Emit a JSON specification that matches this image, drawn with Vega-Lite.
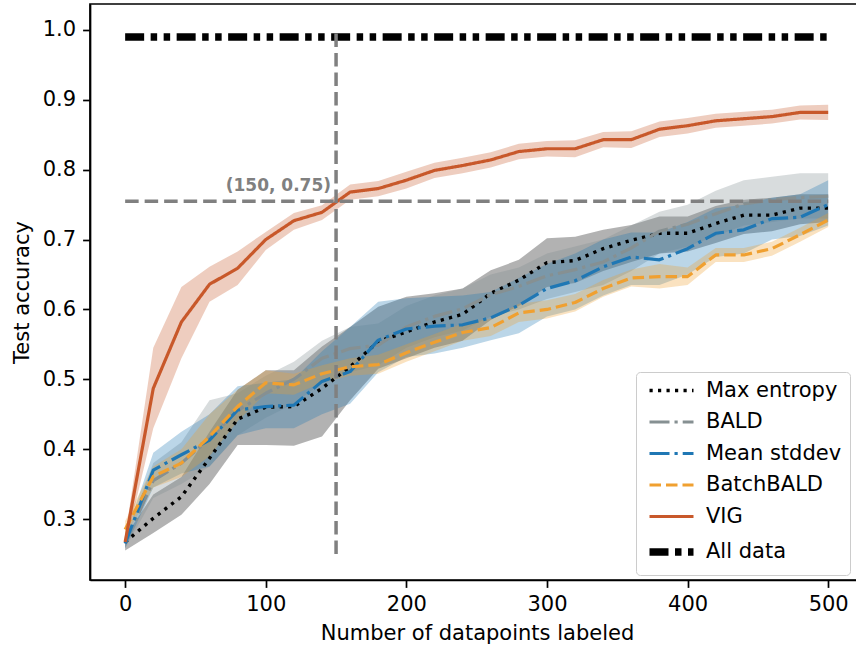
{
  "$schema": "https://vega.github.io/schema/vega-lite/v6.json",
  "width": 768,
  "height": 576,
  "autosize": "none",
  "padding": {"left": 90, "top": 4, "right": -2, "bottom": 69},
  "background": "white",
  "config": {
    "font": "DejaVu Sans",
    "view": {"stroke": "black", "strokeWidth": 1.7},
    "axis": {
      "labelFont": "DejaVu Sans", "labelFontSize": 21, "labelColor": "black",
      "titleFont": "DejaVu Sans", "titleFontSize": 21, "titleFontWeight": "normal", "titleColor": "black",
      "domainColor": "black", "domainWidth": 1.7, "tickColor": "black", "tickWidth": 1.7, "tickSize": 7.4,
      "labelPadding": 6, "grid": false
    },
    "legend": {
      "labelFont": "DejaVu Sans", "labelFontSize": 21, "labelColor": "black"
    }
  },
  "datasets": {
    "curves": [
      {"method":"Max entropy","x":0,"mean":0.267,"lo":0.255,"hi":0.275},
      {"method":"Max entropy","x":20,"mean":0.301,"lo":0.28,"hi":0.335},
      {"method":"Max entropy","x":40,"mean":0.332,"lo":0.306,"hi":0.36},
      {"method":"Max entropy","x":60,"mean":0.387,"lo":0.35,"hi":0.425},
      {"method":"Max entropy","x":80,"mean":0.443,"lo":0.406,"hi":0.485},
      {"method":"Max entropy","x":100,"mean":0.46,"lo":0.406,"hi":0.513},
      {"method":"Max entropy","x":120,"mean":0.461,"lo":0.405,"hi":0.513},
      {"method":"Max entropy","x":140,"mean":0.487,"lo":0.418,"hi":0.547},
      {"method":"Max entropy","x":160,"mean":0.518,"lo":0.47,"hi":0.575},
      {"method":"Max entropy","x":180,"mean":0.554,"lo":0.515,"hi":0.604},
      {"method":"Max entropy","x":200,"mean":0.568,"lo":0.53,"hi":0.618},
      {"method":"Max entropy","x":220,"mean":0.582,"lo":0.545,"hi":0.623},
      {"method":"Max entropy","x":240,"mean":0.593,"lo":0.555,"hi":0.63},
      {"method":"Max entropy","x":260,"mean":0.623,"lo":0.585,"hi":0.656},
      {"method":"Max entropy","x":280,"mean":0.642,"lo":0.605,"hi":0.671},
      {"method":"Max entropy","x":300,"mean":0.667,"lo":0.632,"hi":0.702},
      {"method":"Max entropy","x":320,"mean":0.67,"lo":0.638,"hi":0.704},
      {"method":"Max entropy","x":340,"mean":0.687,"lo":0.655,"hi":0.714},
      {"method":"Max entropy","x":360,"mean":0.699,"lo":0.668,"hi":0.721},
      {"method":"Max entropy","x":380,"mean":0.709,"lo":0.68,"hi":0.733},
      {"method":"Max entropy","x":400,"mean":0.709,"lo":0.683,"hi":0.733},
      {"method":"Max entropy","x":420,"mean":0.723,"lo":0.695,"hi":0.748},
      {"method":"Max entropy","x":440,"mean":0.735,"lo":0.708,"hi":0.757},
      {"method":"Max entropy","x":460,"mean":0.735,"lo":0.712,"hi":0.76},
      {"method":"Max entropy","x":480,"mean":0.745,"lo":0.722,"hi":0.765},
      {"method":"Max entropy","x":500,"mean":0.745,"lo":0.725,"hi":0.765},

      {"method":"BALD","x":0,"mean":0.265,"lo":0.258,"hi":0.272},
      {"method":"BALD","x":20,"mean":0.355,"lo":0.33,"hi":0.38},
      {"method":"BALD","x":40,"mean":0.38,"lo":0.35,"hi":0.41},
      {"method":"BALD","x":60,"mean":0.415,"lo":0.375,"hi":0.47},
      {"method":"BALD","x":80,"mean":0.455,"lo":0.42,"hi":0.48},
      {"method":"BALD","x":100,"mean":0.48,"lo":0.445,"hi":0.505},
      {"method":"BALD","x":120,"mean":0.5,"lo":0.465,"hi":0.525},
      {"method":"BALD","x":140,"mean":0.53,"lo":0.495,"hi":0.555},
      {"method":"BALD","x":160,"mean":0.544,"lo":0.51,"hi":0.575},
      {"method":"BALD","x":180,"mean":0.549,"lo":0.52,"hi":0.58},
      {"method":"BALD","x":200,"mean":0.575,"lo":0.545,"hi":0.605},
      {"method":"BALD","x":220,"mean":0.59,"lo":0.56,"hi":0.62},
      {"method":"BALD","x":240,"mean":0.601,"lo":0.57,"hi":0.63},
      {"method":"BALD","x":260,"mean":0.621,"lo":0.59,"hi":0.65},
      {"method":"BALD","x":280,"mean":0.633,"lo":0.6,"hi":0.66},
      {"method":"BALD","x":300,"mean":0.648,"lo":0.615,"hi":0.68},
      {"method":"BALD","x":320,"mean":0.657,"lo":0.625,"hi":0.69},
      {"method":"BALD","x":340,"mean":0.668,"lo":0.635,"hi":0.7},
      {"method":"BALD","x":360,"mean":0.688,"lo":0.655,"hi":0.72},
      {"method":"BALD","x":380,"mean":0.712,"lo":0.68,"hi":0.74},
      {"method":"BALD","x":400,"mean":0.722,"lo":0.69,"hi":0.75},
      {"method":"BALD","x":420,"mean":0.737,"lo":0.705,"hi":0.77},
      {"method":"BALD","x":440,"mean":0.751,"lo":0.72,"hi":0.785},
      {"method":"BALD","x":460,"mean":0.757,"lo":0.725,"hi":0.79},
      {"method":"BALD","x":480,"mean":0.76,"lo":0.73,"hi":0.795},
      {"method":"BALD","x":500,"mean":0.762,"lo":0.73,"hi":0.795},

      {"method":"Mean stddev","x":0,"mean":0.265,"lo":0.258,"hi":0.275},
      {"method":"Mean stddev","x":20,"mean":0.37,"lo":0.345,"hi":0.395},
      {"method":"Mean stddev","x":40,"mean":0.392,"lo":0.365,"hi":0.425},
      {"method":"Mean stddev","x":60,"mean":0.413,"lo":0.375,"hi":0.45},
      {"method":"Mean stddev","x":80,"mean":0.456,"lo":0.42,"hi":0.49},
      {"method":"Mean stddev","x":100,"mean":0.461,"lo":0.43,"hi":0.495},
      {"method":"Mean stddev","x":120,"mean":0.463,"lo":0.43,"hi":0.5},
      {"method":"Mean stddev","x":140,"mean":0.497,"lo":0.45,"hi":0.54},
      {"method":"Mean stddev","x":160,"mean":0.511,"lo":0.465,"hi":0.575},
      {"method":"Mean stddev","x":180,"mean":0.556,"lo":0.51,"hi":0.611},
      {"method":"Mean stddev","x":200,"mean":0.572,"lo":0.532,"hi":0.616},
      {"method":"Mean stddev","x":220,"mean":0.576,"lo":0.537,"hi":0.618},
      {"method":"Mean stddev","x":240,"mean":0.578,"lo":0.545,"hi":0.62},
      {"method":"Mean stddev","x":260,"mean":0.588,"lo":0.556,"hi":0.625},
      {"method":"Mean stddev","x":280,"mean":0.606,"lo":0.566,"hi":0.645},
      {"method":"Mean stddev","x":300,"mean":0.63,"lo":0.59,"hi":0.665},
      {"method":"Mean stddev","x":320,"mean":0.641,"lo":0.6,"hi":0.68},
      {"method":"Mean stddev","x":340,"mean":0.661,"lo":0.62,"hi":0.7},
      {"method":"Mean stddev","x":360,"mean":0.675,"lo":0.635,"hi":0.71},
      {"method":"Mean stddev","x":380,"mean":0.671,"lo":0.635,"hi":0.71},
      {"method":"Mean stddev","x":400,"mean":0.687,"lo":0.65,"hi":0.725},
      {"method":"Mean stddev","x":420,"mean":0.709,"lo":0.675,"hi":0.745},
      {"method":"Mean stddev","x":440,"mean":0.714,"lo":0.68,"hi":0.75},
      {"method":"Mean stddev","x":460,"mean":0.73,"lo":0.7,"hi":0.76},
      {"method":"Mean stddev","x":480,"mean":0.732,"lo":0.705,"hi":0.765},
      {"method":"Mean stddev","x":500,"mean":0.75,"lo":0.72,"hi":0.785},

      {"method":"BatchBALD","x":0,"mean":0.285,"lo":0.275,"hi":0.297},
      {"method":"BatchBALD","x":20,"mean":0.361,"lo":0.345,"hi":0.375},
      {"method":"BatchBALD","x":40,"mean":0.38,"lo":0.36,"hi":0.4},
      {"method":"BatchBALD","x":60,"mean":0.418,"lo":0.39,"hi":0.45},
      {"method":"BatchBALD","x":80,"mean":0.461,"lo":0.44,"hi":0.485},
      {"method":"BatchBALD","x":100,"mean":0.495,"lo":0.48,"hi":0.513},
      {"method":"BatchBALD","x":120,"mean":0.492,"lo":0.478,"hi":0.508},
      {"method":"BatchBALD","x":140,"mean":0.508,"lo":0.495,"hi":0.52},
      {"method":"BatchBALD","x":160,"mean":0.518,"lo":0.505,"hi":0.53},
      {"method":"BatchBALD","x":180,"mean":0.521,"lo":0.508,"hi":0.535},
      {"method":"BatchBALD","x":200,"mean":0.538,"lo":0.525,"hi":0.55},
      {"method":"BatchBALD","x":220,"mean":0.553,"lo":0.54,"hi":0.565},
      {"method":"BatchBALD","x":240,"mean":0.567,"lo":0.555,"hi":0.58},
      {"method":"BatchBALD","x":260,"mean":0.574,"lo":0.562,"hi":0.587},
      {"method":"BatchBALD","x":280,"mean":0.595,"lo":0.582,"hi":0.608},
      {"method":"BatchBALD","x":300,"mean":0.6,"lo":0.587,"hi":0.613},
      {"method":"BatchBALD","x":320,"mean":0.61,"lo":0.597,"hi":0.622},
      {"method":"BatchBALD","x":340,"mean":0.63,"lo":0.618,"hi":0.642},
      {"method":"BatchBALD","x":360,"mean":0.645,"lo":0.633,"hi":0.657},
      {"method":"BatchBALD","x":380,"mean":0.647,"lo":0.63,"hi":0.665},
      {"method":"BatchBALD","x":400,"mean":0.647,"lo":0.635,"hi":0.66},
      {"method":"BatchBALD","x":420,"mean":0.678,"lo":0.668,"hi":0.688},
      {"method":"BatchBALD","x":440,"mean":0.678,"lo":0.668,"hi":0.688},
      {"method":"BatchBALD","x":460,"mean":0.687,"lo":0.677,"hi":0.697},
      {"method":"BatchBALD","x":480,"mean":0.707,"lo":0.697,"hi":0.717},
      {"method":"BatchBALD","x":500,"mean":0.728,"lo":0.718,"hi":0.738},

      {"method":"VIG","x":0,"mean":0.267,"lo":0.26,"hi":0.275},
      {"method":"VIG","x":20,"mean":0.487,"lo":0.43,"hi":0.545},
      {"method":"VIG","x":40,"mean":0.582,"lo":0.53,"hi":0.632},
      {"method":"VIG","x":60,"mean":0.636,"lo":0.611,"hi":0.661},
      {"method":"VIG","x":80,"mean":0.659,"lo":0.635,"hi":0.683},
      {"method":"VIG","x":100,"mean":0.7,"lo":0.685,"hi":0.711},
      {"method":"VIG","x":120,"mean":0.727,"lo":0.714,"hi":0.738},
      {"method":"VIG","x":140,"mean":0.739,"lo":0.728,"hi":0.749},
      {"method":"VIG","x":160,"mean":0.768,"lo":0.757,"hi":0.779},
      {"method":"VIG","x":180,"mean":0.773,"lo":0.762,"hi":0.784},
      {"method":"VIG","x":200,"mean":0.785,"lo":0.773,"hi":0.797},
      {"method":"VIG","x":220,"mean":0.799,"lo":0.788,"hi":0.81},
      {"method":"VIG","x":240,"mean":0.806,"lo":0.795,"hi":0.817},
      {"method":"VIG","x":260,"mean":0.814,"lo":0.803,"hi":0.825},
      {"method":"VIG","x":280,"mean":0.826,"lo":0.815,"hi":0.837},
      {"method":"VIG","x":300,"mean":0.83,"lo":0.819,"hi":0.841},
      {"method":"VIG","x":320,"mean":0.83,"lo":0.818,"hi":0.842},
      {"method":"VIG","x":340,"mean":0.843,"lo":0.832,"hi":0.854},
      {"method":"VIG","x":360,"mean":0.843,"lo":0.831,"hi":0.855},
      {"method":"VIG","x":380,"mean":0.858,"lo":0.847,"hi":0.869},
      {"method":"VIG","x":400,"mean":0.863,"lo":0.852,"hi":0.874},
      {"method":"VIG","x":420,"mean":0.87,"lo":0.86,"hi":0.88},
      {"method":"VIG","x":440,"mean":0.873,"lo":0.863,"hi":0.883},
      {"method":"VIG","x":460,"mean":0.876,"lo":0.866,"hi":0.886},
      {"method":"VIG","x":480,"mean":0.882,"lo":0.872,"hi":0.892},
      {"method":"VIG","x":500,"mean":0.882,"lo":0.871,"hi":0.893},

      {"method":"All data","x":0,"mean":0.99},
      {"method":"All data","x":500,"mean":0.99}
    ],
    "vref": [{"x":150,"y":0.25,"y2":1.0}],
    "href": [{"x":0,"x2":500,"y":0.755,"label":"(150, 0.75)","lx":150}]
  },
  "layer": [
    {
      "data": {"name": "curves"},
      "transform": [{"filter": "datum.method !== 'All data'"}],
      "mark": {"type": "area", "opacity": 0.3},
      "encoding": {
        "x": {"field": "x", "type": "quantitative",
              "scale": {"domain": [-25, 521.2], "nice": false, "zero": false},
              "axis": {"values": [0,100,200,300,400,500], "title": "Number of datapoints labeled", "titlePadding": 8, "titleX": 387}},
        "y": {"field": "lo", "type": "quantitative",
              "scale": {"domain": [0.2127, 1.0372], "nice": false, "zero": false},
              "axis": {"values": [0.3,0.4,0.5,0.6,0.7,0.8,0.9,1.0], "format": ".1f", "title": "Test accuracy", "titlePadding": 10, "labelPadding": 7}},
        "y2": {"field": "hi"},
        "fill": {"field": "method", "type": "nominal",
                 "scale": {"domain": ["Max entropy","BALD","Mean stddev","BatchBALD","VIG"],
                           "range": ["#000000","#7f8c8d","#1f77b4","#f0a030","#c8582a"]},
                 "legend": null}
      }
    },
    {
      "data": {"name": "curves"},
      "mark": {"type": "line", "strokeCap": "butt", "strokeJoin": "round"},
      "encoding": {
        "x": {"field": "x", "type": "quantitative"},
        "y": {"field": "mean", "type": "quantitative"},
        "color": {"field": "method", "type": "nominal",
                  "scale": {"domain": ["Max entropy","BALD","Mean stddev","BatchBALD","VIG","All data"],
                            "range": ["#000000","#869092","#1f77b4","#f0a030","#c8582a","#000000"]},
                  "legend": {"title": null, "orient": "none", "legendX": 546, "legendY": 368,
                             "padding": 8, "fillColor": "rgba(255,255,255,0.85)", "strokeColor": "#cccccc",
                             "cornerRadius": 4, "symbolType": "M-4,0L4,0", "symbolSize": 121,
                             "symbolOffset": 17, "labelOffset": 24, "rowPadding": 9.5, "labelLimit": 300}},
        "strokeDash": {"field": "method", "type": "nominal",
                       "scale": {"domain": ["Max entropy","BALD","Mean stddev","BatchBALD","VIG","All data"],
                                 "range": [[3.2,5.3],[20,5,3.2,5],[20,5,3.2,5],[11.5,5],[1,0],[19,6.5,6.5,6.5,6.5,6.5]]},
                       "legend": {"title": null, "orient": "none", "legendX": 546, "legendY": 368}},
        "strokeWidth": {"field": "method", "type": "nominal",
                        "scale": {"type": "ordinal", "domain": ["Max entropy","BALD","Mean stddev","BatchBALD","VIG","All data"],
                                  "range": [3.4,3.2,3.2,3.2,3.2,7.4]},
                        "legend": {"title": null, "orient": "none", "legendX": 546, "legendY": 368}}
      }
    },
    {
      "data": {"name": "vref"},
      "mark": {"type": "rule", "color": "#808080", "strokeWidth": 3.5, "strokeDash": [13.5, 6]},
      "encoding": {
        "x": {"field": "x", "type": "quantitative"},
        "y": {"field": "y", "type": "quantitative"},
        "y2": {"field": "y2"}
      }
    },
    {
      "data": {"name": "href"},
      "mark": {"type": "rule", "color": "#808080", "strokeWidth": 3.5, "strokeDash": [13.5, 6]},
      "encoding": {
        "x": {"field": "x", "type": "quantitative"},
        "x2": {"field": "x2"},
        "y": {"field": "y", "type": "quantitative"}
      }
    },
    {
      "data": {"name": "href"},
      "mark": {"type": "text", "color": "#808080", "fontWeight": "bold", "fontSize": 17,
               "align": "right", "baseline": "alphabetic", "dx": -5, "dy": -10, "font": "DejaVu Sans"},
      "encoding": {
        "x": {"field": "lx", "type": "quantitative"},
        "y": {"field": "y", "type": "quantitative"},
        "text": {"field": "label"}
      }
    }
  ]
}
